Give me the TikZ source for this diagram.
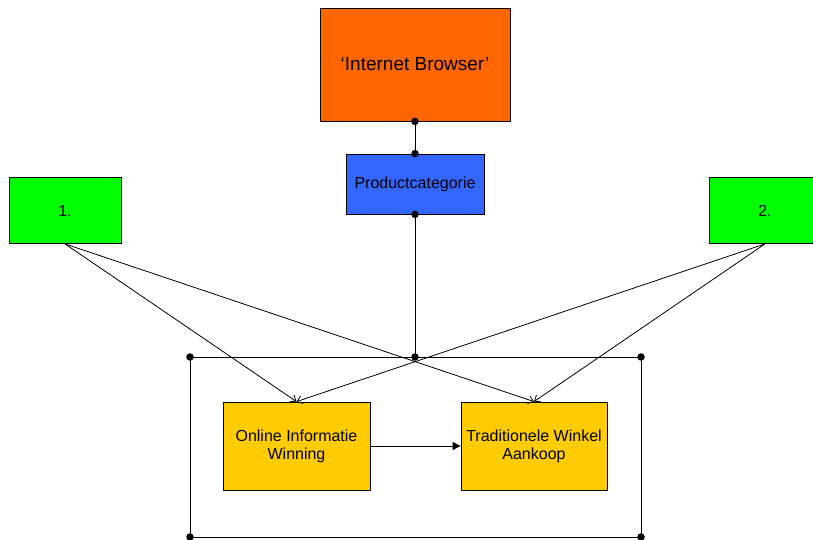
\documentclass[tikz,border=0pt]{standalone}
\usepackage{fontspec}
\setmainfont{Liberation Sans}
\usetikzlibrary{arrows.meta}

\begin{document}
\begin{tikzpicture}[x=1pt, y=-1pt,
    box/.style={draw=black, line width=0.8pt, inner sep=0pt, align=center,
      font=\fontsize{16}{18}\selectfont},
    dot/.style={circle, fill=black, inner sep=0pt, minimum size=7.5pt},
    lijn/.style={line width=0.8pt},
    pijl/.style={line width=0.8pt, -{Straight Barb[length=5pt, width=8pt]}}]
  \clip (0,0) rectangle (813,540);
  \useasboundingbox (0,0) rectangle (813,540);
  % browser en productcategorie
  \node[box, fill={rgb,255:red,255;green,102;blue,0}, minimum width=190pt, minimum height=113pt,
    font=\fontsize{19}{22}\selectfont] (browser) at (415,64.5) {‘Internet Browser’};
  \node[box, fill={rgb,255:red,51;green,102;blue,255}, minimum width=138pt, minimum height=60pt]
    (categorie) at (415,184) {Productcategorie};
  % groene blokken
  \node[box, fill={rgb,255:red,0;green,255;blue,0}, minimum width=112pt, minimum height=66pt]
    (een) at (65,210.5) {1.};
  \node[box, fill={rgb,255:red,0;green,255;blue,0}, minimum width=112pt, minimum height=66pt]
    (twee) at (765,210.5) {2.};
  % gele blokken
  \node[box, fill={rgb,255:red,255;green,204;blue,0}, minimum width=147pt, minimum height=88pt]
    (online) at (296.5,446) {Online Informatie\\Winning};
  \node[box, fill={rgb,255:red,255;green,204;blue,0}, minimum width=146pt, minimum height=88pt]
    (winkel) at (534,446) {Traditionele Winkel\\Aankoop};
  % kader rond de gele blokken
  \coordinate (kader-nw) at (190,357);
  \coordinate (kader-ne) at (641,357);
  \coordinate (kader-sw) at (190,537);
  \coordinate (kader-se) at (641,537);
  \coordinate (kader-n) at (categorie.south |- kader-nw);
  \draw[lijn] (kader-nw) -- (kader-ne) -- (kader-se) -- (kader-sw) -- cycle;
  \foreach \p in {kader-nw, kader-ne, kader-sw, kader-se, kader-n}
    \node[dot] at (\p) {};
  % verbindingen
  \draw[lijn] (browser.south) -- (categorie.north);
  \draw[lijn] (categorie.south) -- (kader-n);
  \node[dot] at (browser.south) {};
  \node[dot] at (categorie.north) {};
  \node[dot] at (categorie.south) {};
  \draw[pijl] (een.south) -- (online.north);
  \draw[pijl] (een.south) -- (winkel.north);
  \draw[pijl] (twee.south) -- (online.north);
  \draw[pijl] (twee.south) -- (winkel.north);
  \draw[line width=0.8pt, -{Triangle[length=8pt, width=8pt]}] (online.east) -- (winkel.west);
\end{tikzpicture}
\end{document}
